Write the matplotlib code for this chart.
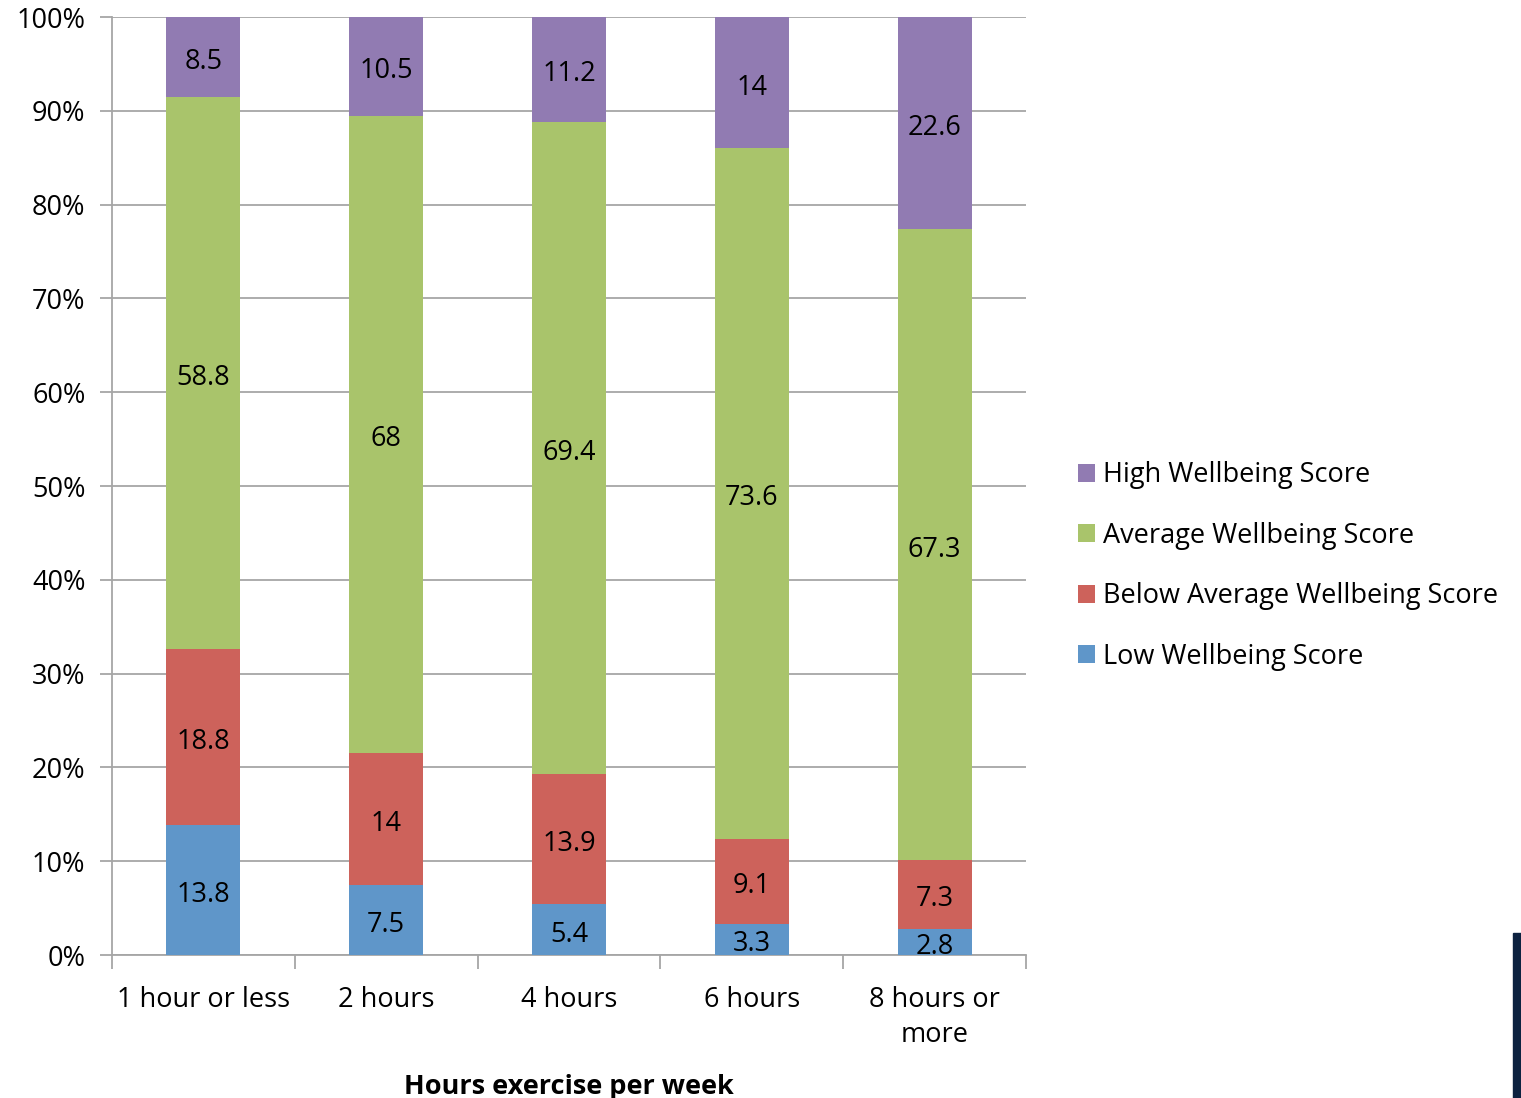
import matplotlib.pyplot as plt
import numpy as np
from matplotlib.patches import Rectangle

plt.rcParams['font.family'] = ['Open Sans', 'DejaVu Sans']

categories = ["1 hour or less", "2 hours", "4 hours", "6 hours", "8 hours or\nmore"]
low = [13.8, 7.5, 5.4, 3.3, 2.8]
below_avg = [18.8, 14, 13.9, 9.1, 7.3]
average = [58.8, 68, 69.4, 73.6, 67.3]
high = [8.5, 10.5, 11.2, 14, 22.6]

series = [
    ("Low Wellbeing Score", low, "#5f96c9"),
    ("Below Average Wellbeing Score", below_avg, "#cd625b"),
    ("Average Wellbeing Score", average, "#a9c46b"),
    ("High Wellbeing Score", high, "#917bb2"),
]

FS = 19.5

fig = plt.figure(figsize=(15.21, 10.98), dpi=100)
ax = fig.add_axes([0.0736, 0.1302, 0.601, 0.8543])

x = np.arange(len(categories))
totals = np.sum([s[1] for s in series], axis=0)
bottom = np.zeros(len(categories))
handles = []
for name, vals, color in series:
    vals = np.array(vals, dtype=float)
    h = vals / totals * 100  # 100% stacked
    b = ax.bar(x, h, width=0.405, bottom=bottom, color=color, label=name, zorder=3)
    handles.append(b)
    for xi, bi, hi, v in zip(x, bottom, h, vals):
        ax.annotate(f"{v:g}", (xi, bi + hi / 2), xytext=(0, -3.5),
                    textcoords="offset points", ha="center", va="center",
                    fontsize=FS, color="black", zorder=4)
    bottom += h

ax.set_xlim(-0.5, len(categories) - 0.5)
ax.set_ylim(0, 100)
ax.set_yticks(np.arange(0, 101, 10))
ax.set_yticklabels([f"{t}%" for t in range(0, 101, 10)], fontsize=FS)
ax.yaxis.grid(True, color="#a6a6a6", linewidth=1.3, zorder=0)
ax.tick_params(axis="y", length=9, color="#a6a6a6", width=1.3, pad=10)

ax.set_xticks(x)
ax.set_xticklabels(categories, fontsize=FS, linespacing=1.35)
ax.set_xticks(np.arange(-0.5, len(categories)), minor=True)
ax.tick_params(axis="x", which="major", length=0, pad=22)
ax.tick_params(axis="x", which="minor", length=10, color="#a6a6a6", width=1.3)

for side in ["top", "right"]:
    ax.spines[side].set_visible(False)
for side in ["left", "bottom"]:
    ax.spines[side].set_color("#a6a6a6")
    ax.spines[side].set_linewidth(1.3)

ax.set_xlabel("Hours exercise per week", fontsize=FS, fontweight="bold", labelpad=18)

leg = fig.legend(handles[::-1], [s[0] for s in series][::-1],
                 loc="center left", bbox_to_anchor=(0.6925, 0.4845),
                 frameon=False, fontsize=FS, handlelength=0.65, handleheight=0.65,
                 handletextpad=0.3, labelspacing=1.2)

# dark edge strip in the bottom-right corner
fig.patches.append(Rectangle((1513 / 1521, 0), 8 / 1521, 165 / 1098,
                             transform=fig.transFigure, color="#0d2240"))

fig.savefig("out.png", dpi=100)
